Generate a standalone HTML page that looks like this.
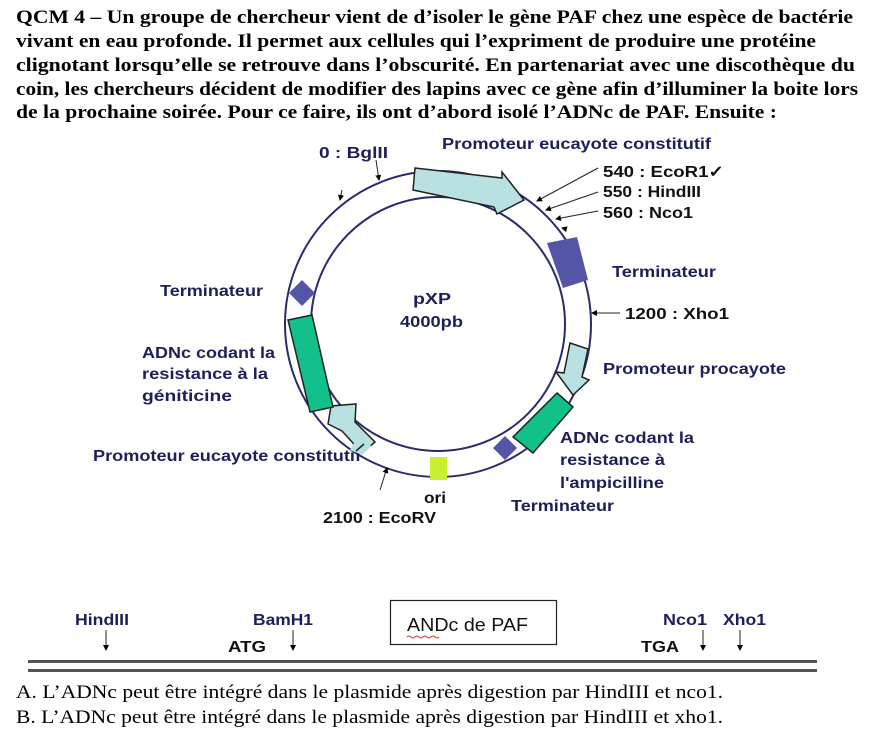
<!DOCTYPE html>
<html><head><meta charset="utf-8"><style>
html,body{margin:0;padding:0;background:#fff;width:872px;height:731px;overflow:hidden}
svg{display:block}
.p{font-family:"Liberation Serif",serif;font-weight:bold;font-size:19px;fill:#000}
.q{font-family:"Liberation Serif",serif;font-size:19px;fill:#000}
.l{font-family:"Liberation Sans",sans-serif;font-weight:bold;font-size:16px;fill:#1e1e5a}
.k{font-family:"Liberation Sans",sans-serif;font-weight:bold;font-size:16px;fill:#111}
</style></head><body>
<svg width="872" height="731" viewBox="0 0 872 731" xmlns="http://www.w3.org/2000/svg">
<defs><marker id="a" markerWidth="6" markerHeight="6" refX="5" refY="3" orient="auto"><path d="M0,0L6,3L0,6z" fill="#000"/></marker></defs>
<g lengthAdjust="spacingAndGlyphs">
<text class="p" x="16" y="23" textLength="837" lengthAdjust="spacingAndGlyphs">QCM 4 – Un groupe de chercheur vient de d’isoler le gène PAF chez une espèce de bactérie</text>
<text class="p" x="16" y="47" textLength="800" lengthAdjust="spacingAndGlyphs">vivant en eau profonde. Il permet aux cellules qui l’expriment de produire une protéine</text>
<text class="p" x="16" y="71" textLength="839" lengthAdjust="spacingAndGlyphs">clignotant lorsqu’elle se retrouve dans l’obscurité. En partenariat avec une discothèque du</text>
<text class="p" x="16" y="95" textLength="842" lengthAdjust="spacingAndGlyphs">coin, les chercheurs décident de modifier des lapins avec ce gène afin d’illuminer la boite lors</text>
<text class="p" x="16" y="118" textLength="761" lengthAdjust="spacingAndGlyphs">de la prochaine soirée. Pour ce faire, ils ont d’abord isolé l’ADNc de PAF. Ensuite :</text>
</g>

<circle cx="438" cy="324" r="153" fill="none" stroke="#2a2a6e" stroke-width="2"/>
<circle cx="438" cy="324" r="127" fill="none" stroke="#2a2a6e" stroke-width="2"/>

<polygon points="415,168 502,178 502,172 524,200 497,214 494,207 413,190" fill="#b9e1e1" stroke="#222" stroke-width="1.5"/>
<polygon points="547,243 577,237 588,280 563,288" fill="#5555a8"/>
<polygon points="570,343 588,349 582,377 589,380 573,395 556,372 564,373" fill="#b9e1e1" stroke="#222" stroke-width="1.5"/>
<polygon points="557,393 573,407 533,453 513,437" fill="#12c08c" stroke="#222" stroke-width="1.5"/>
<polygon points="505,436 517,448 505,460 493,448" fill="#5555a8"/>
<rect x="430" y="457" width="17" height="23" fill="#c8f030"/>
<polygon points="375,442 362,453 342,431 328,424 331,406 356,404 355,422" fill="#b9e1e1" stroke="#222" stroke-width="1.5"/>
<polygon points="288,320 312,315 333,407 310,412" fill="#12c08c" stroke="#222" stroke-width="1.5"/>
<polygon points="302,280 315,293 302,306 289,293" fill="#5555a8"/>

<g stroke="#222" stroke-width="1" fill="none">
<line x1="376" y1="160" x2="379" y2="180" marker-end="url(#a)"/>
<line x1="342" y1="190" x2="340" y2="200" marker-end="url(#a)"/>
<line x1="598" y1="168" x2="537" y2="201" marker-end="url(#a)"/>
<line x1="598" y1="192" x2="546" y2="210" marker-end="url(#a)"/>
<line x1="598" y1="211" x2="556" y2="219" marker-end="url(#a)"/>
<line x1="566" y1="229" x2="562" y2="228" marker-end="url(#a)"/>
<line x1="620" y1="313" x2="592" y2="313" marker-end="url(#a)"/>
<line x1="380" y1="490" x2="387" y2="468" marker-end="url(#a)"/>
</g>

<text class="l" x="319" y="158" textLength="69" lengthAdjust="spacingAndGlyphs">0 : BglII</text>
<text class="l" x="442" y="149" textLength="269" lengthAdjust="spacingAndGlyphs">Promoteur eucayote constitutif</text>
<text class="k" x="603" y="177" textLength="121" lengthAdjust="spacingAndGlyphs">540 : EcoR1✓</text>
<text class="k" x="603" y="197" textLength="98" lengthAdjust="spacingAndGlyphs">550 : HindIII</text>
<text class="k" x="603" y="218" textLength="90" lengthAdjust="spacingAndGlyphs">560 : Nco1</text>
<text class="l" x="612" y="277" textLength="104" lengthAdjust="spacingAndGlyphs">Terminateur</text>
<text class="k" x="625" y="319" textLength="104" lengthAdjust="spacingAndGlyphs">1200  : Xho1</text>
<text class="l" x="603" y="374" textLength="183" lengthAdjust="spacingAndGlyphs">Promoteur procayote</text>
<text class="l" x="560" y="443" textLength="134" lengthAdjust="spacingAndGlyphs">ADNc codant la</text>
<text class="l" x="560" y="465" textLength="105" lengthAdjust="spacingAndGlyphs">resistance à</text>
<text class="l" x="560" y="488" textLength="104" lengthAdjust="spacingAndGlyphs">l'ampicilline</text>
<text class="l" x="511" y="511" textLength="103" lengthAdjust="spacingAndGlyphs">Terminateur</text>
<text class="k" x="424" y="503" textLength="22" lengthAdjust="spacingAndGlyphs">ori</text>
<text class="k" x="323" y="523" textLength="113" lengthAdjust="spacingAndGlyphs">2100 : EcoRV</text>
<text class="l" x="93" y="461" textLength="268" lengthAdjust="spacingAndGlyphs">Promoteur eucayote constitutif</text>
<polygon points="356,440 372,446 362,455 350,450" fill="#b9e1e1"/>
<line x1="356" y1="451" x2="364" y2="444" stroke="#222" stroke-width="1.5"/>
<text class="l" x="142" y="358" textLength="133" lengthAdjust="spacingAndGlyphs">ADNc codant la</text>
<text class="l" x="142" y="379" textLength="126" lengthAdjust="spacingAndGlyphs">resistance à la</text>
<text class="l" x="142" y="401" textLength="90" lengthAdjust="spacingAndGlyphs">géniticine</text>
<text class="l" x="160" y="296" textLength="103" lengthAdjust="spacingAndGlyphs">Terminateur</text>
<text class="l" x="413" y="304" textLength="38" lengthAdjust="spacingAndGlyphs">pXP</text>
<text class="l" x="400" y="327" textLength="63" lengthAdjust="spacingAndGlyphs">4000pb</text>

<text class="l" x="75" y="625" textLength="54" lengthAdjust="spacingAndGlyphs">HindIII</text>
<text class="l" x="253" y="625" textLength="60" lengthAdjust="spacingAndGlyphs">BamH1</text>
<text class="k" x="228" y="652" textLength="38" lengthAdjust="spacingAndGlyphs">ATG</text>
<text class="l" x="663" y="625" textLength="44" lengthAdjust="spacingAndGlyphs">Nco1</text>
<text class="l" x="723" y="625" textLength="43" lengthAdjust="spacingAndGlyphs">Xho1</text>
<text class="k" x="641" y="652" textLength="38" lengthAdjust="spacingAndGlyphs">TGA</text>
<g stroke="#222" stroke-width="1">
<line x1="106" y1="630" x2="106" y2="650" marker-end="url(#a)"/>
<line x1="293" y1="630" x2="293" y2="650" marker-end="url(#a)"/>
<line x1="703" y1="630" x2="703" y2="650" marker-end="url(#a)"/>
<line x1="740" y1="630" x2="740" y2="650" marker-end="url(#a)"/>
</g>
<rect x="390.5" y="600.5" width="166" height="44" fill="#fff" stroke="#222" stroke-width="1.2"/>
<text x="407" y="631" font-family="Liberation Sans,sans-serif" font-size="18" fill="#111" textLength="121" lengthAdjust="spacingAndGlyphs">ANDc de PAF</text>
<path d="M407,637 q2,-2 4,0 t4,0 t4,0 t4,0 t4,0 t4,0 t4,0 t4,0" stroke="#d33" fill="none" stroke-width="1"/>
<rect x="28" y="660" width="789" height="3" fill="#555"/>
<rect x="28" y="669" width="789" height="3" fill="#555"/>

<text class="q" x="16" y="698" textLength="707" lengthAdjust="spacingAndGlyphs">A. L’ADNc peut être intégré dans le plasmide après digestion par HindIII et nco1.</text>
<text class="q" x="16" y="723" textLength="707" lengthAdjust="spacingAndGlyphs">B. L’ADNc peut être intégré dans le plasmide après digestion par HindIII et xho1.</text>
</svg>
</body></html>
